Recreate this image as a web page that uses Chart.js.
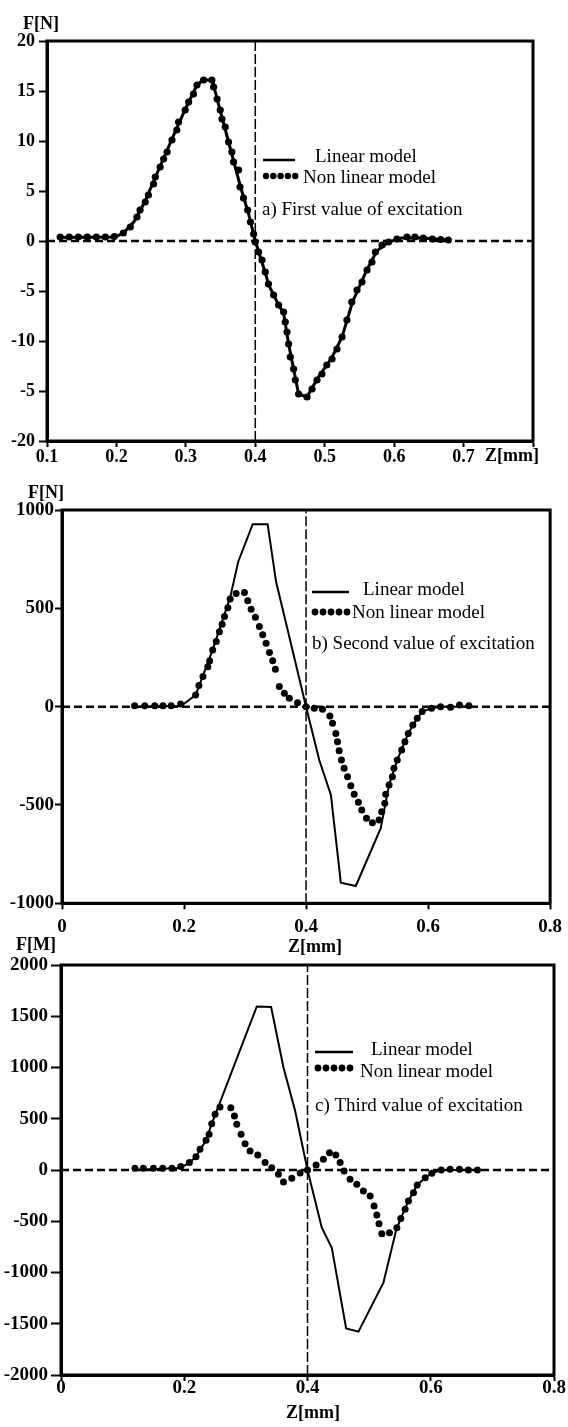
<!DOCTYPE html>
<html><head><meta charset="utf-8">
<script src="https://cdn.jsdelivr.net/npm/chart.js@4.4.0/dist/chart.umd.min.js"></script>
<style>
html,body{margin:0;padding:0;background:#fff;}
body{width:568px;height:1427px;position:relative;overflow:hidden;}
canvas{position:absolute;left:0;display:block;}
</style></head><body>
<canvas id="ca" width="568" height="470" style="top:0px"></canvas>
<canvas id="cb" width="568" height="470" style="top:470px"></canvas>
<canvas id="cc" width="568" height="502" style="top:925px"></canvas>
<script>
// ---------- tick labels ----------
const xTicksA = [0.1,0.2,0.3,0.4,0.5,0.6,0.7,0.8];
const xTickLabelsA = ['0.1','0.2','0.3','0.4','0.5','0.6','0.7',''];
const yTicksA = [20,15,10,5,0,-5,-10,-15,-20];
const yTickLabelsA = ['20','15','10','5','0','-5','-10','-5','-20'];
const xTicksBC = [0,0.2,0.4,0.6,0.8];
const xTickLabelsBC = ['0','0.2','0.4','0.6','0.8'];
const yTicksB = [1000,500,0,-500,-1000];
const yTickLabelsB = ['1000','500','0','-500','-1000'];
const yTicksC = [2000,1500,1000,500,0,-500,-1000,-1500,-2000];
const yTickLabelsC = ['2000','1500','1000','500','0','-500','-1000','-1500','-2000'];

// ---------- texts ----------
const seriesNames = ['Linear model','Non linear model'];
const panelNotes = ['a) First value of excitation','b) Second value of excitation','c) Third value of excitation'];
const yTitles = ['F[N]','F[N]','F[M]'];
const xTitle = 'Z[mm]';

// ---------- panel a ----------
const aLinX = [0.115,0.198,0.210,0.225,0.240,0.260,0.280,0.300,0.316,0.325,0.338,0.345,0.360,0.378,0.390,0.400,0.410,0.420,0.4336,0.4408,0.448,0.4624,0.4745,0.490,0.510,0.525,0.540,0.560,0.575,0.592,0.610,0.640,0.678];
const aLinY = [0.35,0.4,0.8,1.9,3.8,7.0,10.2,13.3,15.6,16.1,16.1,14.2,10.3,5.6,2.8,0,-2.2,-4.5,-6.4,-7.2,-10.3,-15.3,-15.6,-13.7,-11.7,-9.6,-6.1,-3.0,-1.0,-0.1,0.3,0.3,0.1];
const aNlX = [0.119,0.132,0.145,0.158,0.171,0.184,0.197,0.210,0.220,0.2296,0.234,0.2415,0.246,0.2535,0.256,0.263,0.268,0.273,0.280,0.287,0.2895,0.299,0.304,0.311,0.316,0.3255,0.3375,0.340,0.345,0.3495,0.352,0.3567,0.3615,0.3663,0.3687,0.376,0.378,0.383,0.389,0.393,0.3976,0.400,0.4048,0.4097,0.4144,0.419,0.4264,0.4336,0.4408,0.4432,0.4457,0.448,0.4504,0.4552,0.4576,0.4624,0.4745,0.4817,0.4889,0.496,0.503,0.5105,0.5177,0.525,0.532,0.539,0.5465,0.5537,0.561,0.568,0.573,0.5825,0.592,0.604,0.6185,0.630,0.642,0.655,0.667,0.678];
const aNlY = [0.4,0.4,0.4,0.4,0.4,0.4,0.45,0.8,1.4,2.4,3.1,3.9,4.6,5.7,6.4,7.4,8.2,8.9,10.1,11.1,11.9,13.1,13.9,14.7,15.6,16.1,16.1,15.4,14.2,13.1,12.2,11.4,9.9,8.9,7.9,7.1,5.4,4.3,3.1,1.9,0.7,-0.1,-1.1,-1.9,-3.1,-4.3,-5.4,-6.4,-7.1,-8.1,-9.1,-10.3,-11.6,-12.8,-13.9,-15.3,-15.6,-14.8,-13.9,-13.3,-12.4,-11.8,-10.8,-9.6,-7.9,-6.1,-4.9,-4.1,-2.9,-2.1,-1.1,-0.4,-0.1,0.2,0.4,0.4,0.3,0.2,0.15,0.1];

// ---------- panel b ----------
const bLinX = [0.120,0.195,0.219,0.247,0.276,0.2888,0.3126,0.337,0.3508,0.400,0.4216,0.4407,0.457,0.4815,0.5224,0.536,0.5495,0.5675,0.5822,0.5904,0.6057,0.620,0.667];
const bLinY = [0,3,59,290,560,737,928,928,636,0,-271,-449,-895,-912,-618,-398,-271,-136,-59,-25,-8,0,0];
const bNlX = [0.119,0.1356,0.152,0.1656,0.179,0.1944,0.219,0.2244,0.231,0.239,0.242,0.247,0.2528,0.258,0.2625,0.2663,0.2718,0.2756,0.2854,0.299,0.3044,0.310,0.317,0.3235,0.329,0.3345,0.340,0.3453,0.3497,0.3562,0.3644,0.3725,0.386,0.400,0.4134,0.427,0.439,0.4434,0.4488,0.4515,0.4542,0.458,0.4624,0.468,0.4734,0.4788,0.4858,0.4913,0.499,0.5087,0.5196,0.524,0.529,0.5305,0.536,0.5414,0.544,0.5495,0.5567,0.562,0.5675,0.575,0.5822,0.5904,0.6057,0.6204,0.6368,0.6515,0.6667];
const bNlY = [5,5,5,5,5,14,59,107,153,203,234,288,331,381,419,458,503,548,576,580,539,495,454,407,365,322,275,234,190,102,68,43,20,0,-8,-13,-47,-85,-136,-178,-224,-271,-313,-356,-402,-446,-486,-525,-567,-590,-576,-534,-491,-446,-398,-356,-313,-271,-220,-178,-136,-93,-59,-25,-8,0,-3,9,4];

// ---------- panel c ----------
const cLinX = [0.120,0.194,0.2083,0.219,0.2354,0.2446,0.258,0.3177,0.341,0.361,0.380,0.400,0.4232,0.4394,0.4627,0.4827,0.5232,0.5438,0.5514,0.5638,0.578,0.591,0.6018,0.617,0.672];
const cLinY = [0,20,72,130,290,452,660,1595,1590,1000,576,0,-563,-758,-1545,-1577,-1099,-588,-472,-302,-146,-75,-32,0,0];
const cNlX = [0.120,0.1336,0.150,0.165,0.180,0.1943,0.2083,0.219,0.2256,0.2354,0.2403,0.2446,0.250,0.258,0.2755,0.2814,0.2852,0.2922,0.2987,0.3068,0.3193,0.3312,0.342,0.3528,0.361,0.3745,0.388,0.400,0.414,0.4258,0.4356,0.446,0.453,0.4594,0.469,0.480,0.4907,0.5016,0.508,0.5125,0.516,0.5206,0.533,0.545,0.5514,0.5584,0.5638,0.572,0.578,0.591,0.6018,0.617,0.6315,0.6466,0.661,0.6758];
const cNlY = [16,16,16,16,16,33,72,130,202,290,348,452,543,615,608,527,446,348,257,185,146,72,23,-42,-117,-81,-29,0,49,104,169,146,72,-10,-91,-140,-205,-254,-351,-439,-524,-621,-611,-563,-472,-384,-302,-221,-146,-75,-32,0,7,7,0,0];

const zip = (xs, ys) => xs.map((x, i) => ({x, y: ys[i]}));
const FONT = '"Liberation Serif","Times New Roman",serif';

const decor = {
  id: 'decor',
  afterDraw(chart, args, o) {
    const {ctx, chartArea: a} = chart;
    ctx.save();
    ctx.strokeStyle = '#000';
    ctx.lineWidth = 3;
    ctx.strokeRect(a.left, a.top, a.right - a.left, a.bottom - a.top);
    ctx.fillStyle = '#000';
    ctx.textBaseline = 'middle';
    for (const t of o.texts) {
      ctx.font = t.font;
      ctx.textAlign = t.align || 'left';
      ctx.fillText(t.s, t.x, t.y);
    }
    const L = o.legend;
    if (L) {
      ctx.lineWidth = 2.5;
      ctx.beginPath(); ctx.moveTo(L.lx1, L.ly); ctx.lineTo(L.lx2, L.ly); ctx.stroke();
      for (let i = 0; i < 5; i++) {
        ctx.beginPath(); ctx.arc(L.dx + i * L.ds, L.dy, L.r, 0, Math.PI * 2); ctx.fill();
      }
    }
    ctx.restore();
  }
};

function makeChart(id, p) {
  const datasets = [
    {data: zip(p.nlX, p.nlY), showLine: false, pointRadius: p.dotR, pointBackgroundColor: '#000', pointBorderWidth: 0, borderColor: '#000'},
    {data: zip(p.linX, p.linY), showLine: true, pointRadius: 0, borderColor: '#000', borderWidth: p.lineW, tension: 0},
    {data: [{x: p.xMin, y: 0}, {x: p.xMax, y: 0}], showLine: true, pointRadius: 0, borderColor: '#000', borderWidth: 2.5, borderDash: [8, 4]},
    {data: [{x: 0.4, y: p.yMin}, {x: 0.4, y: p.yMax}], showLine: true, pointRadius: 0, borderColor: '#000', borderWidth: 1.5, borderDash: [10, 3]}
  ];
  return new Chart(document.getElementById(id), {
    type: 'scatter',
    data: {datasets},
    options: {
      responsive: false, animation: false, events: [],
      layout: {padding: {left: 0, right: p.padR, top: p.padT, bottom: 0}},
      plugins: {legend: {display: false}, tooltip: {enabled: false}, decor: {texts: p.texts, legend: p.legend}},
      scales: {
        x: {
          type: 'linear', min: p.xMin, max: p.xMax,
          afterBuildTicks: s => { s.ticks = p.xTicks.map(v => ({value: v})); },
          afterFit: s => { s.height = p.xH; },
          ticks: {autoSkip: false, maxRotation: 0, color: '#000', padding: p.xPad,
                  font: {family: FONT, size: p.tickFs, weight: 'bold'},
                  callback: (v, i) => p.xLabels[i]},
          grid: {drawOnChartArea: false, drawTicks: true, tickLength: 6, tickWidth: 2, tickColor: '#000'},
          border: {display: true, color: '#000', width: 3}
        },
        y: {
          type: 'linear', min: p.yMin, max: p.yMax,
          afterBuildTicks: s => { s.ticks = p.yTicks.map(v => ({value: v})); },
          afterFit: s => { s.width = p.yW; },
          ticks: {autoSkip: false, color: '#000', padding: p.yPad,
                  font: {family: FONT, size: p.tickFs, weight: 'bold'},
                  callback: (v, i) => p.yLabels[i]},
          grid: {drawOnChartArea: false, drawTicks: true, tickLength: p.yTL, tickWidth: 2, tickColor: '#000'},
          border: {display: true, color: '#000', width: 3}
        }
      }
    },
    plugins: [decor]
  });
}

const AX = 'bold 18px ' + FONT;
const LG = '19px ' + FONT;

makeChart('ca', {
  linX: aLinX, linY: aLinY, nlX: aNlX, nlY: aNlY, dotR: 3.6, lineW: 3, tickFs: 18,
  xMin: 0.1, xMax: 0.8, yMin: -20, yMax: 20,
  xTicks: xTicksA, xLabels: xTickLabelsA, yTicks: yTicksA, yLabels: yTickLabelsA,
  padR: 35, padT: 41, xH: 29, yW: 47, xPad: 0, yPad: 4, yTL: 8,
  texts: [
    {s: yTitles[0], x: 41, y: 24, font: AX, align: 'center'},
    {s: xTitle, x: 485, y: 456, font: AX},
    {s: seriesNames[0], x: 315, y: 157, font: LG},
    {s: seriesNames[1], x: 303, y: 178, font: LG},
    {s: panelNotes[0], x: 262, y: 210, font: LG}
  ],
  legend: {lx1: 263, lx2: 295, ly: 160, dx: 266, ds: 7.3, dy: 176, r: 3.2}
});

makeChart('cb', {
  linX: bLinX, linY: bLinY, nlX: bNlX, nlY: bNlY, dotR: 3.5, lineW: 2, tickFs: 19,
  xMin: 0, xMax: 0.8, yMin: -1000, yMax: 1000,
  xTicks: xTicksBC, xLabels: xTickLabelsBC, yTicks: yTicksB, yLabels: yTickLabelsB,
  padR: 17, padT: 40, xH: 36.7, yW: 62, xPad: 6, yPad: 1, yTL: 7,
  texts: [
    {s: yTitles[1], x: 46, y: 23, font: AX, align: 'center'},
    {s: seriesNames[0], x: 363, y: 120, font: LG},
    {s: seriesNames[1], x: 352, y: 143, font: LG},
    {s: panelNotes[1], x: 312, y: 174, font: LG}
  ],
  legend: {lx1: 312, lx2: 349, ly: 122, dx: 315, ds: 8, dy: 142, r: 3.4}
});

makeChart('cc', {
  linX: cLinX, linY: cLinY, nlX: cNlX, nlY: cNlY, dotR: 3.5, lineW: 2, tickFs: 19,
  xMin: 0, xMax: 0.8, yMin: -2000, yMax: 2000,
  xTicks: xTicksBC, xLabels: xTickLabelsBC, yTicks: yTicksC, yLabels: yTickLabelsC,
  padR: 14, padT: 40, xH: 52, yW: 61, xPad: -4, yPad: 3, yTL: 10,
  texts: [
    {s: yTitles[2], x: 36, y: 20, font: AX, align: 'center'},
    {s: xTitle, x: 315, y: 22, font: AX, align: 'center'},
    {s: seriesNames[0], x: 371, y: 125, font: LG},
    {s: seriesNames[1], x: 360, y: 147, font: LG},
    {s: panelNotes[2], x: 315, y: 181, font: LG},
    {s: xTitle, x: 313, y: 488, font: AX, align: 'center'}
  ],
  legend: {lx1: 315, lx2: 353, ly: 127, dx: 318, ds: 8, dy: 143, r: 3.4}
});
</script>
</body></html>
